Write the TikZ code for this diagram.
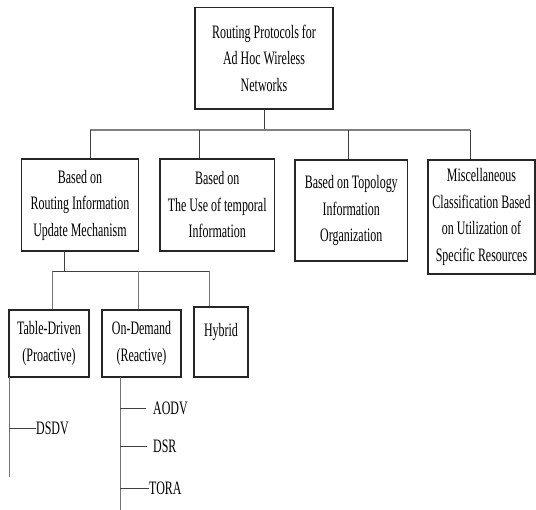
\documentclass[tikz,border=0pt]{standalone}
\usepackage{fontspec}
\setmainfont{Liberation Serif}[FakeStretch=0.63]
\begin{document}
\begin{tikzpicture}[x=1pt,y=-1pt,
  box/.style={draw=black!85, line width=1.1pt, align=center, inner sep=0pt,
    font=\fontsize{19}{26.5}\selectfont},
  leaf/.style={inner sep=0pt, font=\fontsize{19}{26}\selectfont},
  conn/.style={draw=black!75, line width=0.9pt},
  bar/.style={draw=black!50, line width=2.4pt},
  tree/.style={draw=black!55, line width=1pt}]
\useasboundingbox (0,0) rectangle (536,510);
% top
\node[box, minimum width=138, minimum height=101.5] (top) at (264,58.25)
  {Routing Protocols for\\Ad Hoc Wireless\\Networks};
% level 2
\node[box, minimum width=117, minimum height=92] (b1) at (80,205)
  {Based on\\Routing Information\\Update Mechanism};
\node[box, minimum width=114.5, minimum height=92] (b2) at (217.25,205)
  {Based on\\The Use of temporal\\Information};
\node[box, minimum width=112.5, minimum height=101] (b3) at (351.25,210.5)
  {Based on Topology\\Information\\Organization};
\node[box, minimum width=107, minimum height=114] (b4) at (481.5,217)
  {Miscellaneous\\Classification Based\\on Utilization of\\Specific Resources};
% level 3
\node[box, minimum width=80, minimum height=67] (td) at (49,343.5)
  {Table-Driven\\(Proactive)};
\node[box, minimum width=79, minimum height=67] (od) at (141.5,343.5)
  {On-Demand\\(Reactive)};
\node[box, minimum width=54, minimum height=70] (hy) at (221,342) {};
\node[leaf, anchor=base] (hyt) at (221,337) {Hybrid};
% leaves
\node[leaf, anchor=west] (dsdv) at (36,428) {DSDV};
\node[leaf, anchor=west] (aodv) at (153,408) {AODV};
\node[leaf, anchor=west] (dsr) at (153,446) {DSR};
\node[leaf, anchor=west] (tora) at (149,488) {TORA};
% level-1 connectors
\coordinate (bl) at (90,130);
\coordinate (br) at (470,130);
\coordinate (j2) at (199,130);
\coordinate (j3) at (348,130);
\draw[conn] (top.south) -- (top.south |- bl);
\draw[bar] (bl) -- (br);
\draw[conn] (bl) -- (bl |- b1.north);
\draw[conn] (j2) -- (j2 |- b2.north);
\draw[conn] (j3) -- (j3 |- b3.north);
\draw[conn] (br) -- (br |- b4.north);
% level-2 connectors
\coordinate (s1) at (64,251);
\coordinate (m1) at (64,271);
\coordinate (cl) at (52,271);
\coordinate (cm) at (138,271);
\coordinate (cr) at (209,271);
\draw[conn] (s1) -- (m1);
\draw[conn] (cl) -- (cr);
\draw[tree] (cl) -- (cl |- td.north);
\draw[tree] (cm) -- (cm |- od.north);
\draw[tree] (cr) -- (cr |- hy.north);
% leaf trees
\coordinate (tdl) at (9,377);
\coordinate (tde) at (9,477);
\draw[tree] (tdl) -- (tde);
\draw[conn] (tdl |- dsdv.west) -- (dsdv.west);
\coordinate (odl) at (120,377);
\coordinate (ode) at (120,510);
\draw[tree] (odl) -- (ode);
\draw[conn] (odl |- aodv.west) -- ([xshift=-7pt]aodv.west);
\draw[conn] (odl |- dsr.west) -- ([xshift=-6pt]dsr.west);
\draw[conn] (odl |- tora.west) -- (tora.west);
\end{tikzpicture}
\end{document}
